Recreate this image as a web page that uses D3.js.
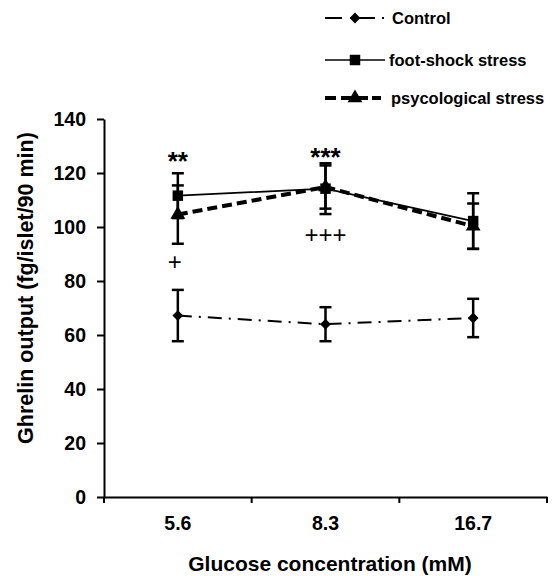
<!DOCTYPE html>
<html><head><meta charset="utf-8">
<script src="https://cdn.jsdelivr.net/npm/d3@7"></script>
<style>body{margin:0;background:#fff}svg{display:block}text{font-family:Arial,"Liberation Sans",sans-serif;font-weight:bold;fill:#000}</style>
</head><body>
<svg id="c" width="554" height="576"></svg>
<script>
const categories = ["5.6", "8.3", "16.7"];
const yTicks = [0, 20, 40, 60, 80, 100, 120, 140];
const controlMean = [67.2, 64.0, 66.3];
const controlErr = [9.5, 6.3, 7.1];
const footMean = [111.6, 114.2, 102.2];
const footErr = [8.3, 9.4, 10.3];
const psychMean = [104.6, 114.8, 100.3];
const psychErr = [10.8, 8.0, 8.4];
const seriesNames = ["Control", "foot-shock stress", "psycological stress"];
const starLabels = ["**", "***", ""];
const plusLabels = ["+", "+++", ""];

const FONT = "Arial, 'Liberation Sans', sans-serif";
const svg = d3.select("#c");
const x = d3.scaleBand().domain(categories).range([104, 547]);
const y = d3.scaleLinear().domain([0, 140]).range([497, 119]);
const cx = c => x(c) + x.bandwidth() / 2;

// axes
const yAx = svg.append("g").attr("transform", "translate(104,0)")
  .call(d3.axisLeft(y).tickValues(yTicks).tickSize(7).tickPadding(11).tickSizeOuter(0));
yAx.select(".domain").attr("stroke-width", 2);
yAx.selectAll(".tick line").attr("stroke-width", 2);
yAx.selectAll("text").style("font-size", "19.5px").style("font-family", FONT).style("font-weight", "bold");

const xAx = svg.append("g").attr("transform", "translate(0,497)")
  .call(d3.axisBottom(x).tickSize(0).tickPadding(19));
xAx.select(".domain").attr("stroke-width", 2);
xAx.selectAll("text").style("font-size", "19.5px").style("font-family", FONT).style("font-weight", "bold");
const bounds = categories.map(c => x(c)).concat([x(categories[categories.length - 1]) + x.bandwidth()]);
svg.append("g").selectAll("line").data(bounds).join("line")
  .attr("x1", d => d).attr("x2", d => d).attr("y1", 497).attr("y2", 503)
  .attr("stroke", "#000").attr("stroke-width", 2);

// axis titles
svg.append("text").attr("x", 330).attr("y", 571).attr("text-anchor", "middle")
  .style("font-size", "21px").text("Glucose concentration (mM)");
svg.append("text").attr("transform", "translate(33,288) rotate(-90)").attr("text-anchor", "middle")
  .style("font-size", "21.5px").text("Ghrelin output (fg/islet/90 min)");

const series = [
  {mean: controlMean, err: controlErr, dash: "14,7,2,7", width: 2, marker: "diamond"},
  {mean: psychMean, err: psychErr, dash: "10,5", width: 4, marker: "triangle"},
  {mean: footMean, err: footErr, dash: null, width: 1.7, marker: "square"}
];

const line = d3.line().x((d, i) => cx(categories[i])).y(d => y(d));
const symbols = {diamond: d3.symbolSquare, square: d3.symbolSquare, triangle: d3.symbolTriangle};
const sizes = {diamond: 58, square: 110, triangle: 95};
const rot = m => m === "diamond" ? " rotate(45)" : "";

series.forEach(s => {
  const g = svg.append("g");
  s.mean.forEach((m, i) => {
    const px = cx(categories[i]);
    const top = y(m + s.err[i]), bot = y(m - s.err[i]);
    g.append("line").attr("x1", px).attr("x2", px).attr("y1", top).attr("y2", bot).attr("stroke", "#000").attr("stroke-width", 2.5);
    [top, bot].forEach(v => g.append("line").attr("x1", px - 6).attr("x2", px + 6).attr("y1", v).attr("y2", v).attr("stroke", "#000").attr("stroke-width", 2.5));
  });
});

series.forEach(s => {
  svg.append("path").datum(s.mean).attr("d", line).attr("fill", "none").attr("stroke", "#000")
    .attr("stroke-width", s.width).attr("stroke-dasharray", s.dash);
  svg.append("g").selectAll("path").data(s.mean).join("path")
    .attr("transform", (d, i) => `translate(${cx(categories[i])},${y(d)})` + rot(s.marker))
    .attr("d", d3.symbol().type(symbols[s.marker]).size(sizes[s.marker])).attr("fill", "#000");
});

// significance labels
svg.append("g").selectAll("text").data(starLabels).join("text")
  .attr("x", (d, i) => cx(categories[i])).attr("y", (d, i) => i === 0 ? 170 : 166)
  .attr("text-anchor", "middle").style("font-size", "26px").text(d => d);
svg.append("g").selectAll("text").data(plusLabels).join("text")
  .attr("x", (d, i) => cx(categories[i]) - (i === 0 ? 3 : 0)).attr("y", (d, i) => i === 0 ? 270 : 243)
  .attr("text-anchor", "middle").style("font-size", "24px").style("font-weight", "normal").style("fill", "#000").text(d => d);

// legend
const leg = [
  {name: seriesNames[0], yy: 18, x2: 386, dash: "17,8,25,7,2,100", width: 2, marker: "diamond", tx: 392},
  {name: seriesNames[1], yy: 60, x2: 385, dash: null, width: 1.7, marker: "square", tx: 389},
  {name: seriesNames[2], yy: 98, x2: 383, dash: "11,5,27,4,9,100", width: 4, marker: "triangle", tx: 391}
];
leg.forEach(l => {
  svg.append("line").attr("x1", 325).attr("x2", l.x2).attr("y1", l.yy).attr("y2", l.yy)
    .attr("stroke", "#000").attr("stroke-width", l.width).attr("stroke-dasharray", l.dash);
  svg.append("path").attr("transform", `translate(355,${l.yy})` + rot(l.marker))
    .attr("d", d3.symbol().type(symbols[l.marker]).size(sizes[l.marker])).attr("fill", "#000");
  svg.append("text").attr("x", l.tx).attr("y", l.yy + 6).style("font-size", "16.5px").text(l.name);
});
</script>
</body></html>
